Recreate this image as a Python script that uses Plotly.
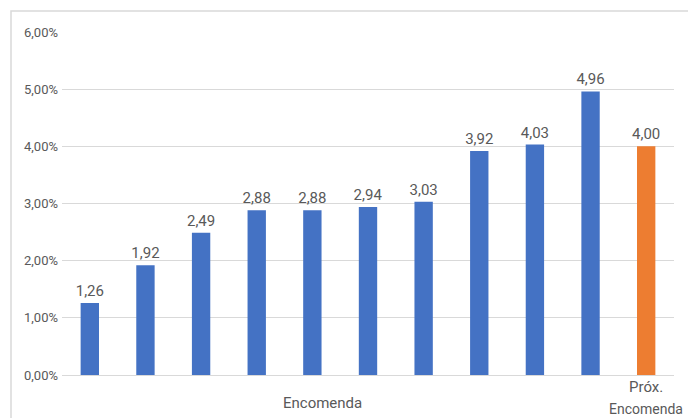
import plotly.graph_objects as go

# Order rate per delivery, in percent
categories = ["E1", "E2", "E3", "E4", "E5", "E6", "E7", "E8", "E9", "E10", "Próx. Encomenda"]
values = [1.26, 1.92, 2.49, 2.88, 2.88, 2.94, 3.03, 3.92, 4.03, 4.96, 4.00]
bar_colors = ["#4472C4"] * 10 + ["#ED7D31"]
y_ticks = [0, 1, 2, 3, 4, 5, 6]
y_tick_labels = ["0,00%", "1,00%", "2,00%", "3,00%", "4,00%", "5,00%", "6,00%"]
value_labels = [f"{v:.2f}".replace(".", ",") for v in values]

FONT = "Liberation Sans Narrow, Roboto, Arial"
W, H = 688, 418
L, R, T, B = 62, 14, 32, 43
pw, ph = W - L - R, H - T - B

fig = go.Figure(
    go.Bar(
        x=categories,
        y=values,
        marker=dict(color=bar_colors, line=dict(width=0)),
        width=0.33,
        text=value_labels,
        textposition="outside",
        constraintext="none",
        textfont=dict(family=FONT, size=15, color="#595959"),
        cliponaxis=False,
    )
)

fig.update_layout(
    width=W,
    height=H,
    margin=dict(l=L, r=R, t=T, b=B),
    paper_bgcolor="white",
    plot_bgcolor="white",
    showlegend=False,
    font=dict(family=FONT, color="#595959"),
    xaxis=dict(
        showticklabels=False,
        showgrid=False,
        zeroline=False,
        showline=False,
        range=[-0.5, 10.5],
    ),
    yaxis=dict(
        range=[0, 6],
        tickvals=y_ticks,
        ticktext=y_tick_labels,
        tickfont=dict(family=FONT, size=13, color="#595959"),
        showgrid=True,
        gridcolor="#d9d9d9",
        gridwidth=1,
        zeroline=True,
        zerolinecolor="#d9d9d9",
        zerolinewidth=1,
        showline=False,
        ticks="",
        ticklabelstandoff=3,
    ),
)

def px_to_paper_x(px):
    return (px - L) / pw

def px_to_paper_y(py):
    return (H - B - py) / ph

# Chart frame
fig.add_shape(
    type="rect",
    xref="paper", yref="paper",
    x0=px_to_paper_x(11), x1=px_to_paper_x(700),
    y0=px_to_paper_y(430), y1=px_to_paper_y(11),
    line=dict(color="#d9d9d9", width=1.5),
    fillcolor="rgba(0,0,0,0)",
    layer="below",
)

# Category labels
label_font = dict(family=FONT, size=15, color="#595959")
fig.add_annotation(
    x=px_to_paper_x(322), y=px_to_paper_y(403), xref="paper", yref="paper",
    text="Encomenda", showarrow=False, font=label_font,
    xanchor="center", yanchor="middle",
)
fig.add_annotation(
    x=categories[-1], y=px_to_paper_y(387), xref="x", yref="paper",
    text="Próx.", showarrow=False, font=label_font,
    xanchor="center", yanchor="middle",
)
fig.add_annotation(
    x=categories[-1], y=px_to_paper_y(409), xref="x", yref="paper",
    text="Encomenda", showarrow=False, font=dict(family=FONT, size=14, color="#595959"),
    xanchor="center", yanchor="middle",
)

fig.write_html("out.html")
